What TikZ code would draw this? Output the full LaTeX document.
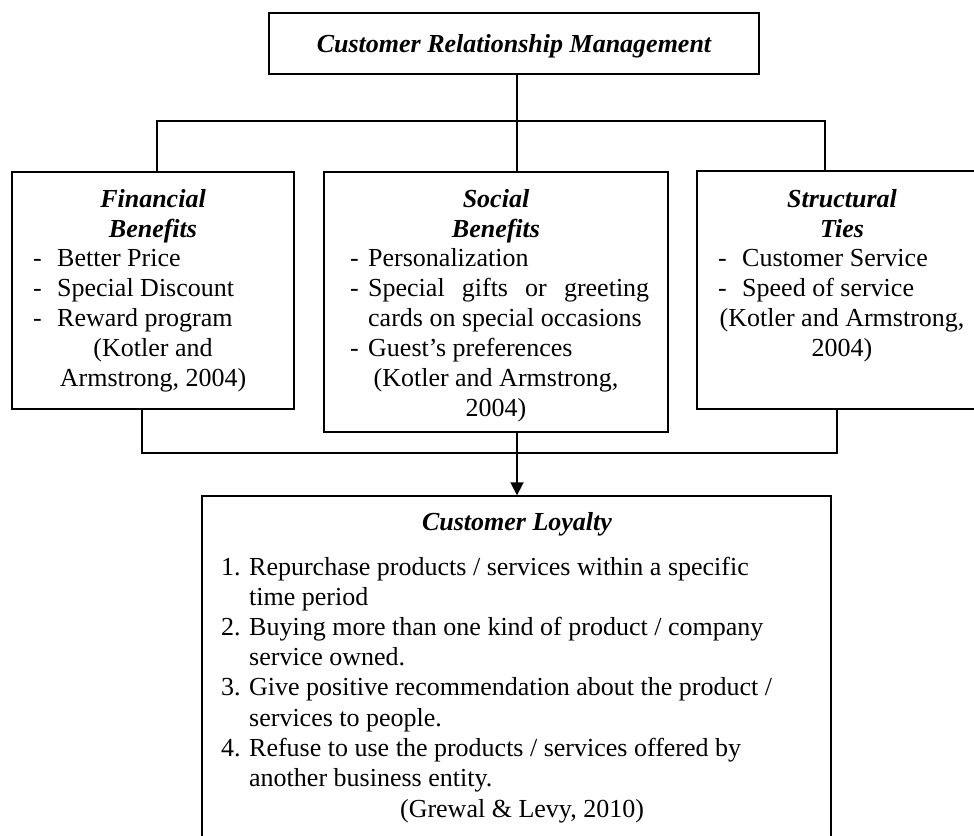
\documentclass[tikz,border=0pt]{standalone}
\usepackage{fontspec}
\setmainfont{Liberation Serif}
\usetikzlibrary{arrows.meta}
\tikzset{
  box/.style={draw, line width=1.4pt, inner sep=0pt, rectangle},
  conn/.style={line width=1.4pt},
  txt/.style={inner sep=0pt, font=\fontsize{26}{30}\selectfont},
  ttl/.style={inner sep=0pt, font=\fontsize{26}{30}\selectfont\bfseries\itshape, anchor=base},
  lft/.style={txt, anchor=base west},
  ctr/.style={txt, anchor=base},
}
\begin{document}
\begin{tikzpicture}[x=1pt,y=-1pt]
\useasboundingbox (0,0) rectangle (974,835);
\clip (0,0) rectangle (974,835);
% boxes
\node[box, minimum width=490pt, minimum height=61pt] (crm) at (514,43.5) {};
\node[box, minimum width=282pt, minimum height=237pt] (fin) at (153,290.5) {};
\node[box, minimum width=344pt, minimum height=260pt] (soc) at (496,302) {};
\node[box, minimum width=290pt, minimum height=238pt] (str) at (842,290) {};
\node[box, minimum width=629pt, minimum height=364pt] (loy) at (516.5,678) {};
% junction coordinates
\coordinate (jm) at (517,121);
\coordinate (jl) at (157,121);
\coordinate (jr) at (825,121);
\coordinate (bl) at (142,453);
\coordinate (br) at (837,453);
\coordinate (am) at (517,453);
% connectors
\draw[conn] (crm.south -| jm) -- (soc.north -| jm);
\draw[conn] (fin.north -| jl) -- (jl) -- (jr) -- (str.north -| jr);
\draw[conn] (fin.south -| bl) -- (bl) -- (br) -- (str.south -| br);
\draw[line width=1.8pt, -{Triangle[length=13pt,width=13pt]}] (soc.south -| am) -- (loy.north -| am);
% CRM
\node[ttl] (crmt) at (514,52) {Customer Relationship Management};
% Financial
\node[ttl] (ft1) at (153,207) {Financial};
\node[ttl] (ft2) at (153,237) {Benefits};
\node[lft] (fd1) at (33,266) {-};
\node[lft] (fd2) at (33,296) {-};
\node[lft] (fd3) at (33,326) {-};
\node[lft] (fi1) at (57,266) {Better Price};
\node[lft] (fi2) at (57,296) {Special Discount};
\node[lft] (fi3) at (57,326) {Reward program};
\node[ctr] (fr1) at (153,356) {(Kotler and};
\node[ctr] (fr2) at (153,386) {Armstrong, 2004)};
% Social
\node[ttl] (st1) at (496,207) {Social};
\node[ttl] (st2) at (496,237) {Benefits};
\node[lft] (sd1) at (350,266) {-};
\node[lft] (sd2) at (350,296) {-};
\node[lft] (sd3) at (350,356) {-};
\node[lft] (si1) at (368,266) {Personalization};
\node[lft] (si2) at (368,296) {\makebox[281pt][s]{Special gifts or greeting}};
\node[lft] (si3) at (368,326) {cards on special occasions};
\node[lft] (si4) at (368,356) {Guest’s preferences};
\node[ctr] (sr1) at (496,386) {(Kotler and Armstrong,};
\node[ctr] (sr2) at (496,416) {2004)};
% Structural
\node[ttl] (tt1) at (842,207) {Structural};
\node[ttl] (tt2) at (842,237) {Ties};
\node[lft] (td1) at (718,266) {-};
\node[lft] (td2) at (718,296) {-};
\node[lft] (ti1) at (742,266) {Customer Service};
\node[lft] (ti2) at (742,296) {Speed of service};
\node[ctr] (tr1) at (842,326) {(Kotler and Armstrong,};
\node[ctr] (tr2) at (842,356) {2004)};
% Loyalty
\node[ttl] (lt) at (517,530) {Customer Loyalty};
\node[lft] (ln1) at (221,575) {1.};
\node[lft] (ln2) at (221,635.4) {2.};
\node[lft] (ln3) at (221,695.8) {3.};
\node[lft] (ln4) at (221,756.2) {4.};
\node[lft] (li1) at (249,575) {Repurchase products / services within a specific};
\node[lft] (li1b) at (249,605.2) {time period};
\node[lft] (li2) at (249,635.4) {Buying more than one kind of product / company};
\node[lft] (li2b) at (249,665.6) {service owned.};
\node[lft] (li3) at (249,695.8) {Give positive recommendation about the product /};
\node[lft] (li3b) at (249,726) {services to people.};
\node[lft] (li4) at (249,756.2) {Refuse to use the products / services offered by};
\node[lft] (li4b) at (249,786.4) {another business entity.};
\node[ctr] (lr) at (522,817) {(Grewal \& Levy, 2010)};
\end{tikzpicture}
\end{document}
